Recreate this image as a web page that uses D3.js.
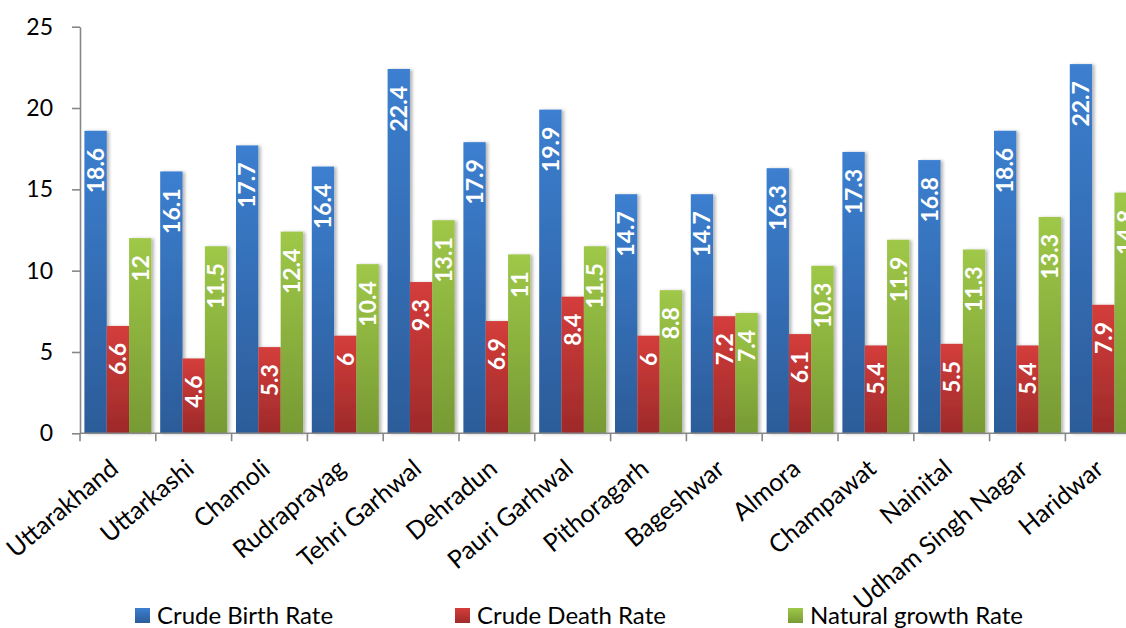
<!DOCTYPE html>
<html>
<head>
<meta charset="utf-8">
<script src="https://cdn.jsdelivr.net/npm/d3@7"></script>
<style>
  html, body { margin: 0; padding: 0; background: #fff; }
  svg { display: block; font-family: Lato, "Open Sans", sans-serif; }
</style>
</head>
<body>
<svg id="chart" width="1126" height="628"></svg>
<script>
// District-wise vital rates (per 1000 population)
const districts = ["Uttarakhand", "Uttarkashi", "Chamoli", "Rudraprayag", "Tehri Garhwal",
  "Dehradun", "Pauri Garhwal", "Pithoragarh", "Bageshwar", "Almora", "Champawat",
  "Nainital", "Udham Singh Nagar", "Haridwar"];
const crudeBirthRate = [18.6, 16.1, 17.7, 16.4, 22.4, 17.9, 19.9, 14.7, 14.7, 16.3, 17.3, 16.8, 18.6, 22.7];
const crudeDeathRate = [6.6, 4.6, 5.3, 6, 9.3, 6.9, 8.4, 6, 7.2, 6.1, 5.4, 5.5, 5.4, 7.9];
const naturalGrowthRate = [12, 11.5, 12.4, 10.4, 13.1, 11, 11.5, 8.8, 7.4, 10.3, 11.9, 11.3, 13.3, 14.8];
const seriesNames = ["Crude Birth Rate", "Crude Death Rate", "Natural growth Rate"];
const yTickValues = [0, 5, 10, 15, 20, 25];

const seriesValues = [crudeBirthRate, crudeDeathRate, naturalGrowthRate];
const gradients = [
  { id: "gBlue", top: "#3c7fd0", bottom: "#2c5c99" },
  { id: "gRed", top: "#d43d3b", bottom: "#9e2a2a" },
  { id: "gGreen", top: "#9fc848", bottom: "#779a34" }
];

const svg = d3.select("#chart");
const defs = svg.append("defs");
gradients.forEach(g => {
  const lg = defs.append("linearGradient").attr("id", g.id)
    .attr("x1", 0).attr("y1", 0).attr("x2", 0).attr("y2", 1);
  lg.append("stop").attr("offset", "0%").attr("stop-color", g.top);
  lg.append("stop").attr("offset", "100%").attr("stop-color", g.bottom);
});
const shadow = defs.append("filter").attr("id", "barShadow")
  .attr("x", "-20%").attr("y", "-5%").attr("width", "160%").attr("height", "110%");
shadow.append("feDropShadow").attr("dx", 2.5).attr("dy", 0.5)
  .attr("stdDeviation", 1.6).attr("flood-color", "#000").attr("flood-opacity", 0.28);

const plotLeft = 80, step = 75.8;
const x = d3.scaleBand().domain(districts)
  .range([plotLeft, plotLeft + step * districts.length])
  .paddingInner(0.116).paddingOuter(0.058);
const xs = d3.scaleBand().domain(d3.range(seriesNames.length)).range([0, x.bandwidth()]);
const y = d3.scaleLinear().domain([0, 25]).range([433.3, 26.7]);

// Bars
const groups = svg.append("g").selectAll("g").data(districts).join("g")
  .attr("transform", d => `translate(${x(d)},0)`);

groups.each(function (d, i) {
  const g = d3.select(this);
  seriesValues.forEach((vals, s) => {
    const v = vals[i];
    g.append("rect")
      .attr("x", xs(s)).attr("y", y(v))
      .attr("width", xs.bandwidth()).attr("height", y(0) - y(v))
      .attr("fill", `url(#${gradients[s].id})`)
      .attr("filter", "url(#barShadow)");
  });
});

// Value labels, inside the top of each bar
groups.each(function (d, i) {
  const g = d3.select(this);
  seriesValues.forEach((vals, s) => {
    const v = vals[i];
    const cx = xs(s) + xs.bandwidth() / 2;
    const ty = y(v) + 17;
    g.append("text")
      .attr("transform", `translate(${cx},${ty}) rotate(-90)`)
      .attr("text-anchor", "end")
      .attr("dy", "0.36em")
      .attr("fill", "#fff")
      .attr("font-weight", 700)
      .attr("font-size", 23)
      .text(String(v));
  });
});

// Y axis
const yAxis = svg.append("g").attr("transform", `translate(${plotLeft},0)`)
  .call(d3.axisLeft(y).tickValues(yTickValues).tickSize(8).tickPadding(19).tickSizeOuter(0));
yAxis.select(".domain").attr("stroke", "#878787").attr("stroke-width", 1.6);
yAxis.selectAll(".tick line").attr("stroke", "#878787").attr("stroke-width", 1.6);
yAxis.selectAll(".tick text").attr("fill", "#000").attr("font-size", 23)
  .attr("font-family", "Lato, sans-serif");

// X axis with boundary ticks between categories
const baseY = y(0);
const xAxisG = svg.append("g");
xAxisG.append("line")
  .attr("x1", plotLeft).attr("x2", plotLeft + step * districts.length)
  .attr("y1", baseY).attr("y2", baseY)
  .attr("stroke", "#878787").attr("stroke-width", 1.6);
xAxisG.selectAll("line.b").data(d3.range(districts.length + 1)).join("line")
  .attr("class", "b")
  .attr("x1", k => x(districts[0]) - x.step() * x.paddingOuter() + k * x.step())
  .attr("x2", k => x(districts[0]) - x.step() * x.paddingOuter() + k * x.step())
  .attr("y1", baseY).attr("y2", baseY + 8)
  .attr("stroke", "#878787").attr("stroke-width", 1.6);

xAxisG.selectAll("text").data(districts).join("text")
  .attr("transform", d => `translate(${x(d) + x.bandwidth() / 2 + 2},${baseY + 38}) rotate(-40)`)
  .attr("text-anchor", "end")
  .attr("font-size", 25)
  .attr("fill", "#000")
  .text(d => d);

// Legend
const legendX = [135, 455, 788];
const legend = svg.append("g").selectAll("g").data(seriesNames).join("g")
  .attr("transform", (d, i) => `translate(${legendX[i]},608)`);
legend.append("rect").attr("width", 15).attr("height", 15)
  .attr("fill", (d, i) => `url(#${gradients[i].id})`);
legend.append("text").attr("x", 22).attr("y", 16)
  .attr("font-size", 24).attr("fill", "#000")
  .text(d => d);
</script>
</body>
</html>
